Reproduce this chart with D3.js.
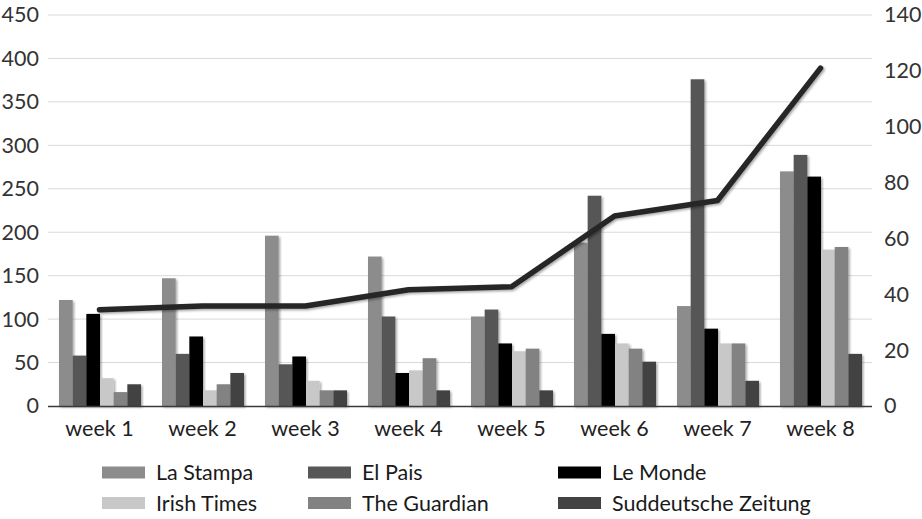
<!DOCTYPE html>
<html><head><meta charset="utf-8">
<script src="https://cdn.jsdelivr.net/npm/d3@7"></script>
<style>body{margin:0;background:#fff}svg{display:block;font-family:Lato,"Open Sans",sans-serif}</style>
</head><body><svg id="c" width="922" height="519"></svg>
<script>
const weeks = ["week 1","week 2","week 3","week 4","week 5","week 6","week 7","week 8"];
const seriesNames = ["La Stampa","El Pais","Le Monde","Irish Times","The Guardian","Suddeutsche Zeitung"];
const laStampa   = [122,147,196,172,103,188,115,270];
const elPais     = [58,60,48,103,111,242,376,289];
const leMonde    = [106,80,57,38,72,83,89,264];
const irishTimes = [32,18,29,41,63,72,72,180];
const guardian   = [16,25,18,55,66,66,72,183];
const sudd       = [25,38,18,18,18,51,29,60];
const lineValues = [34.5,35.8,35.8,41.6,42.7,68,73.6,121];
const leftTicks  = [0,50,100,150,200,250,300,350,400,450];
const rightTicks = [0,20,40,60,80,100,120,140];
const colors = ["#8c8c8c","#575757","#000000","#c8c8c8","#828282","#434343"];

const series = [laStampa, elPais, leMonde, irishTimes, guardian, sudd];
const svg = d3.select("#c");
const pL = 48, pR = 872, pT = 15, pB = 406;
const FS = 21.5, FF = "Lato,'Open Sans',sans-serif";

const defs = svg.append("defs");
const f = defs.append("filter").attr("id","sh").attr("x","-20%").attr("y","-20%").attr("width","140%").attr("height","140%");
f.append("feDropShadow").attr("dx",1.5).attr("dy",1.5).attr("stdDeviation",1.2).attr("flood-color","#000").attr("flood-opacity",0.35);

const x0 = d3.scaleBand().domain(weeks).range([pL,pR]).padding(0);
const x1 = d3.scaleBand().domain(seriesNames).range([11, 93]).padding(0);
const yL = d3.scaleLinear().domain([0,450]).range([pB,pT]);
const yR = d3.scaleLinear().domain([0,140]).range([pB,pT]);

svg.append("g").selectAll("line").data(leftTicks.filter(d=>d>0)).join("line")
  .attr("x1",pL).attr("x2",pR).attr("y1",d=>yL(d)).attr("y2",d=>yL(d))
  .attr("stroke","#d9d9d9").attr("stroke-width",1);

const axL = d3.axisLeft(yL).tickValues(leftTicks).tickSize(0).tickPadding(9);
const gL = svg.append("g").attr("transform",`translate(${pL},0)`).call(axL);
gL.select(".domain").remove();
gL.selectAll("text").attr("font-size",FS).attr("fill","#333").attr("font-family",FF);

const axR = d3.axisRight(yR).tickValues(rightTicks).tickSize(0).tickPadding(12);
const gR = svg.append("g").attr("transform",`translate(${pR},0)`).call(axR);
gR.select(".domain").remove();
gR.selectAll("text").attr("font-size",FS).attr("fill","#333").attr("font-family",FF);

const groups = svg.append("g").selectAll("g").data(weeks).join("g")
  .attr("transform",d=>`translate(${x0(d)},0)`);
groups.selectAll("rect").data((w,i)=>series.map((s,j)=>({name:seriesNames[j],v:s[i],c:colors[j]})))
  .join("rect")
  .attr("x",d=>x1(d.name)).attr("width",x1.bandwidth())
  .attr("y",d=>yL(d.v)).attr("height",d=>yL(0)-yL(d.v))
  .attr("fill",d=>d.c).attr("filter","url(#sh)");

svg.append("line").attr("x1",pL).attr("x2",pR).attr("y1",pB+0.5).attr("y2",pB+0.5)
  .attr("stroke","#3a3a3a").attr("stroke-width",1.5);

const axB = d3.axisBottom(x0).tickSize(0).tickPadding(15);
const gB = svg.append("g").attr("transform",`translate(0,${pB})`).call(axB);
gB.select(".domain").remove();
gB.selectAll("text").attr("font-size",FS).attr("fill","#222").attr("font-family",FF);

const line = d3.line().x((d,i)=>x0(weeks[i])+x0.bandwidth()/2).y(d=>yR(d));
svg.append("path").datum(lineValues).attr("d",line).attr("fill","none")
  .attr("stroke","#262626").attr("stroke-width",5.5).attr("stroke-linecap","round").attr("stroke-linejoin","round")
  .attr("filter","url(#sh)");

const legX = [102,308,558], legY = [472.5,503];
const leg = svg.append("g").selectAll("g").data(seriesNames).join("g")
  .attr("transform",(d,i)=>`translate(${legX[i%3]},${legY[Math.floor(i/3)]})`);
leg.append("rect").attr("x",0).attr("y",-6).attr("width",43).attr("height",12).attr("fill",(d,i)=>colors[i]);
leg.append("text").attr("x",54).attr("y",0).attr("dy","0.35em").attr("font-size",FS).attr("fill","#1a1a1a").attr("font-family",FF).text(d=>d);
</script></body></html>
